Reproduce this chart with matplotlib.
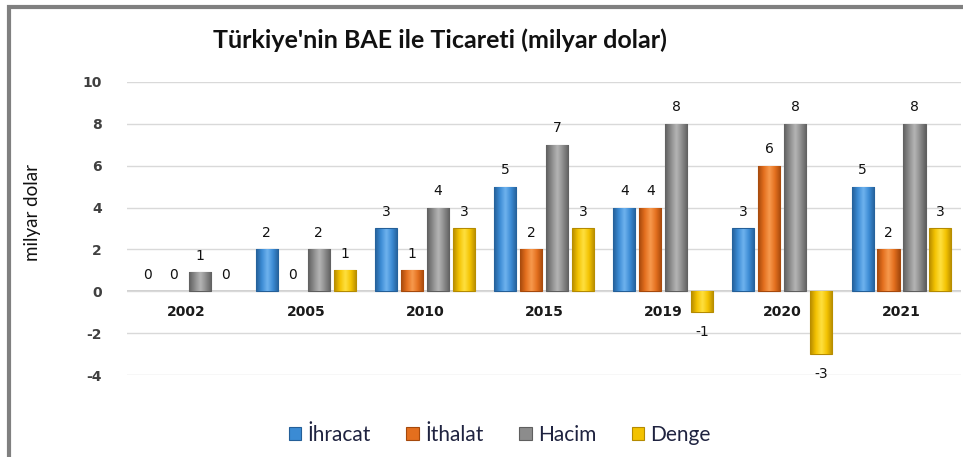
import matplotlib.pyplot as plt
from matplotlib.patches import Rectangle, Patch
from matplotlib.colors import LinearSegmentedColormap
import numpy as np

plt.rcParams['axes.unicode_minus'] = False

years = ['2002', '2005', '2010', '2015', '2019', '2020', '2021']
ihracat = [0, 2, 3, 5, 4, 3, 5]
ithalat = [0, 0, 1, 2, 4, 6, 2]
hacim = [0.9, 2, 4, 7, 8, 8, 8]
denge = [0, 1, 3, 3, -1, -3, 3]
series_names = ['İhracat', 'İthalat', 'Hacim', 'Denge']
colors = ['#3b8bd4', '#e46f1e', '#8c8c8c', '#f3c200']
light = ['#6fb3ee', '#f79a4e', '#b5b5b5', '#ffe040']
edges = ['#245f98', '#a5490c', '#5f5f5f', '#b48a00']


def shade(ax, bar, i):
    # bevel-like horizontal gradient inside each bar
    cmap = LinearSegmentedColormap.from_list('g', [edges[i], colors[i], light[i], colors[i], edges[i]])
    x0 = bar.get_x()
    y0 = bar.get_y()
    w = bar.get_width()
    h = bar.get_height()
    grad = np.linspace(0, 1, 64).reshape(1, -1)
    im = ax.imshow(grad, cmap=cmap, extent=[x0, x0 + w, min(y0, y0 + h), max(y0, y0 + h)],
                   aspect='auto', zorder=3.5, interpolation='bicubic')
    im.set_clip_path(bar)


def main():
    fig = plt.figure(figsize=(9.63, 4.57), dpi=100)
    ax = fig.add_axes([0.132, 0.1794, 0.866, 0.6412])

    x = np.arange(len(years))
    step = 0.218
    width = 0.185
    data = [ihracat, ithalat, hacim, denge]
    for i, vals in enumerate(data):
        pos = x + (i - 1.5) * step
        lws = [0.8 if v != 0 else 0 for v in vals]
        bars = ax.bar(pos, vals, width, color=colors[i], edgecolor=edges[i], linewidth=lws, zorder=3)
        for b, v in zip(bars, vals):
            cx = b.get_x() + b.get_width() / 2
            if v != 0:
                shade(ax, b, i)
            if v < 0:
                ax.annotate(f'{v:.0f}', (cx, v), xytext=(0, -14), textcoords='offset points',
                            ha='center', va='center', fontsize=10, color='#111111')
            else:
                ax.annotate(f'{v:.0f}', (cx, v), xytext=(0, 12), textcoords='offset points',
                            ha='center', va='center', fontsize=10, color='#111111')

    ax.set_xlim(-0.5, 6.5)
    ax.set_ylim(-4, 10)
    ax.set_yticks(range(-4, 11, 2))
    ax.yaxis.grid(True, color='#d9d9d9', lw=1, zorder=0)
    ax.axhline(0, color='#c8c8c8', lw=1.2, zorder=1)
    for s in ax.spines.values():
        s.set_visible(False)
    ax.spines['bottom'].set_position(('data', 0))
    ax.set_xticks(x)
    ax.set_xticklabels(years, fontweight='bold', fontsize=10, color='#1a1a1a')
    ax.tick_params(axis='x', length=0, pad=10)
    ax.tick_params(axis='y', length=0, pad=18, labelsize=10, labelcolor='#404040')
    for t in ax.get_yticklabels():
        t.set_fontweight('bold')

    fig.text(0.457, 0.913, "Türkiye'nin BAE ile Ticareti (milyar dolar)", ha='center', va='center',
             fontsize=18, fontweight='bold', family='Lato', color='#111111')
    fig.text(0.034, 0.535, 'milyar dolar', rotation=90, ha='center', va='center',
             fontsize=13.5, family='Lato', color='#111111')

    handles = [Patch(facecolor=c, edgecolor=e, lw=0.8) for c, e in zip(colors, edges)]
    fig.legend(handles, series_names, loc='center', bbox_to_anchor=(0.519, 0.048), ncol=4, frameon=False,
               handlelength=0.6, handleheight=0.6, handletextpad=0.3, columnspacing=1.7,
               prop={'family': 'Lato', 'size': 15}, labelcolor='#1f2340')

    fig.patches.append(Rectangle((0.0095, -0.1), 1.2, 1.1 - 7.5 / 457, transform=fig.transFigure,
                                 fill=False, edgecolor='#808080', lw=3))

    plt.savefig('out.png', dpi=100)


if __name__ == '__main__':
    main()
